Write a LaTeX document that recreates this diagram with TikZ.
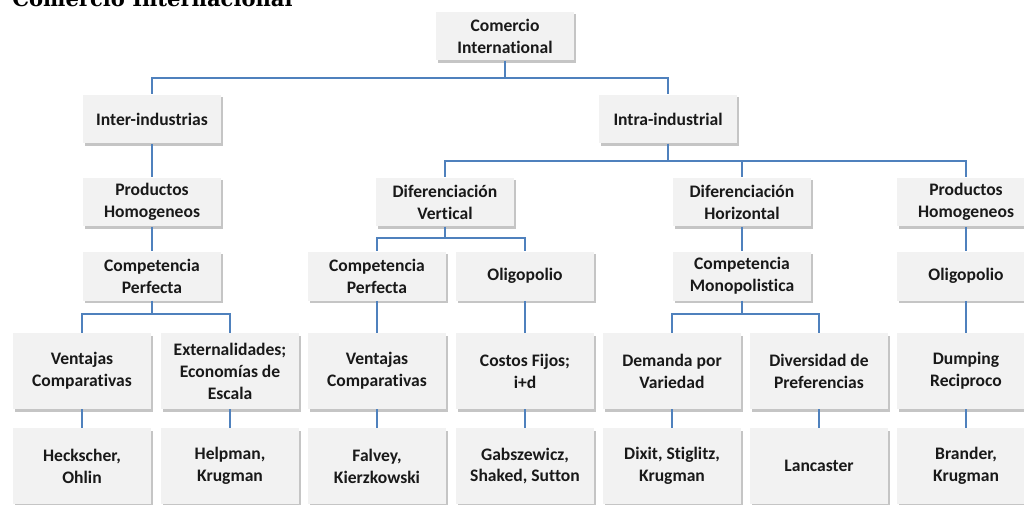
\documentclass[tikz,border=0pt]{standalone}
\usepackage{fontspec}
\setmainfont{Carlito}[Ligatures=NoCommon]
\newfontfamily\titlefont{DejaVu Serif}
\usetikzlibrary{shadows}
\definecolor{LinkBlue}{RGB}{79,129,189}
\definecolor{BoxGray}{RGB}{242,242,242}
\definecolor{TextDark}{RGB}{25,25,25}

\begin{document}
\begin{tikzpicture}[x=0.02cm, y=-0.02cm,
  every node/.style={font=\fontsize{10}{12.5}\selectfont\bfseries, align=center, text=TextDark},
  box/.style={fill=BoxGray, minimum width=2.76cm, minimum height=0.98cm,
    drop shadow={shadow xshift=1.2pt, shadow yshift=-1.5pt, fill=black!45, opacity=0.5}},
  tallbox/.style={box, minimum height=1.52cm},
  link/.style={draw=LinkBlue, line width=0.8pt}]
  \useasboundingbox (0,0) rectangle (1024,504);

  \node[font=\titlefont\fontsize{12}{14}\selectfont\bfseries, text=black, anchor=base west, inner sep=0pt] (title) at (12,6) {Comercio Internacional};

  % levels 1 and 2
  \node[box] (cti) at (505,36) {Comercio\\International};
  \node[box] (inter) at (152,119) {Inter-industrias};
  \node[box] (intra) at (668,119) {Intra-industrial};

  % level 3
  \node[box] (prodL) at (152,202) {Productos\\Homogeneos};
  \node[box] (difV) at (445,202) {Diferenciación\\Vertical};
  \node[box] (difH) at (742,202) {Diferenciación\\Horizontal};
  \node[box] (prodR) at (966,202) {Productos\\Homogeneos};

  % level 4
  \node[box] (compL) at (152,276) {Competencia\\Perfecta};
  \node[box] (compV) at (377,276) {Competencia\\Perfecta};
  \node[box] (oligV) at (525,276) {Oligopolio};
  \node[box] (compM) at (742,276) {Competencia\\Monopolistica};
  \node[box] (oligR) at (966,276) {Oligopolio};

  % level 5
  \node[tallbox] (ventL) at (82,371) {Ventajas\\Comparativas};
  \node[tallbox] (extern) at (230,371) {Externalidades;\\Economías de\\Escala};
  \node[tallbox] (ventV) at (377,371) {Ventajas\\Comparativas};
  \node[tallbox] (costos) at (525,371) {Costos Fijos;\\i+d};
  \node[tallbox] (demanda) at (672,371) {Demanda por\\Variedad};
  \node[tallbox] (divers) at (819,371) {Diversidad de\\Preferencias};
  \node[tallbox] (dumping) at (966,371) {Dumping\\Reciproco};

  % authors
  \node[tallbox] (heck) at (82,466) {Heckscher,\\Ohlin};
  \node[tallbox] (help) at (230,466) {Helpman,\\Krugman};
  \node[tallbox] (falvey) at (377,466) {Falvey,\\Kierzkowski};
  \node[tallbox] (gabs) at (525,466) {Gabszewicz,\\Shaked, Sutton};
  \node[tallbox] (dixit) at (672,466) {Dixit, Stiglitz,\\Krugman};
  \node[tallbox] (lanc) at (819,466) {Lancaster};
  \node[tallbox] (brander) at (966,466) {Brander,\\Krugman};

  % connectors
  \draw[link] (cti.south) -- ++(0,17) -| (inter.north);
  \draw[link] (cti.south) -- ++(0,17) -| (intra.north);
  \draw[link] (intra.south) -- ++(0,17) -| (difV.north);
  \draw[link] (intra.south) -- ++(0,17) -| (difH.north);
  \draw[link] (intra.south) -- ++(0,17) -| (prodR.north);
  \draw[link] (inter) -- (prodL);
  \draw[link] (prodL) -- (compL);
  \draw[link] (difV.south) -- ++(0,11) -| (compV.north);
  \draw[link] (difV.south) -- ++(0,11) -| (oligV.north);
  \draw[link] (difH) -- (compM);
  \draw[link] (prodR) -- (oligR);
  \draw[link] (compL.south) -- ++(0,13) -| (ventL.north);
  \draw[link] (compL.south) -- ++(0,13) -| (extern.north);
  \draw[link] (compV) -- (ventV);
  \draw[link] (oligV) -- (costos);
  \draw[link] (compM.south) -- ++(0,13) -| (demanda.north);
  \draw[link] (compM.south) -- ++(0,13) -| (divers.north);
  \draw[link] (oligR) -- (dumping);
  \draw[link] (ventL) -- (heck);
  \draw[link] (extern) -- (help);
  \draw[link] (ventV) -- (falvey);
  \draw[link] (costos) -- (gabs);
  \draw[link] (demanda) -- (dixit);
  \draw[link] (divers) -- (lanc);
  \draw[link] (dumping) -- (brander);
\end{tikzpicture}
\end{document}
